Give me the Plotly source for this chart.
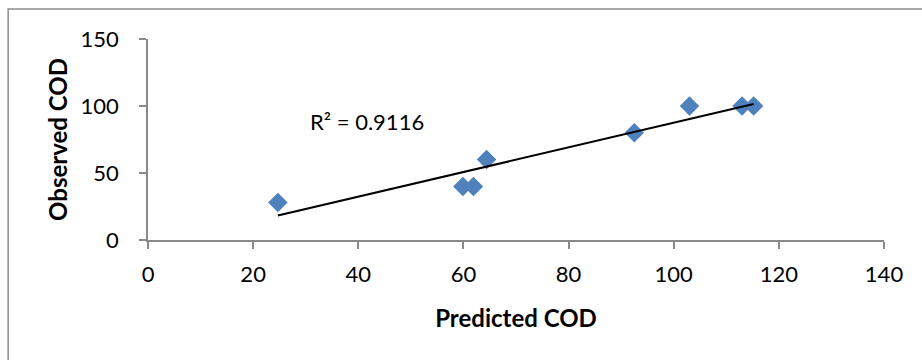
import numpy as np
import plotly.graph_objects as go

predicted_cod = [24.7, 59.9, 61.9, 64.4, 92.5, 103.0, 113.0, 115.2]
observed_cod = [28, 40, 40, 60, 80, 100, 100, 100]
r2_label = "R² = 0.9116"
x_ticks = [0, 20, 40, 60, 80, 100, 120, 140]
y_ticks = [0, 50, 100, 150]

slope, intercept = np.polyfit(predicted_cod, observed_cod, 1)
x_fit = [min(predicted_cod), max(predicted_cod)]
y_fit = [slope * v + intercept for v in x_fit]

FONT = "Lato"
AXIS_COLOR = "#898989"

fig = go.Figure()
fig.add_trace(go.Scatter(
    x=predicted_cod, y=observed_cod, mode="markers",
    marker=dict(symbol="diamond", size=15, color="#4F81BD", line=dict(width=0)),
    showlegend=False, hoverinfo="skip"))
fig.add_trace(go.Scatter(
    x=x_fit, y=y_fit, mode="lines",
    line=dict(color="black", width=2),
    showlegend=False, hoverinfo="skip"))

fig.add_annotation(x=41.75, y=88.8, xref="x", yref="y", text=r2_label,
                   showarrow=False, font=dict(family=FONT, size=22, color="black"))

fig.add_shape(type="rect", xref="paper", yref="paper",
              x0=-0.19, x1=1.07, y0=-0.7, y1=1.149,
              line=dict(color="#8c8c8c", width=1.5), fillcolor="rgba(0,0,0,0)", layer="below")

fig.update_xaxes(
    range=[0, 140], tickvals=x_ticks, showgrid=False, zeroline=False,
    showline=True, linecolor=AXIS_COLOR, linewidth=1.5,
    ticks="outside", ticklen=7, tickcolor=AXIS_COLOR, tickwidth=1.5,
    tickfont=dict(family=FONT, size=22, color="black"), ticklabelstandoff=7,
    title=dict(text="<b>Predicted COD</b>", font=dict(family=FONT, size=24, color="black"), standoff=24),
    automargin=False)
fig.update_yaxes(
    range=[0, 150], tickvals=y_ticks, showgrid=False, zeroline=False,
    showline=True, linecolor=AXIS_COLOR, linewidth=1.5,
    ticks="outside", ticklen=7, tickcolor=AXIS_COLOR, tickwidth=1.5,
    tickfont=dict(family=FONT, size=22, color="black"), ticklabelstandoff=16,
    title=dict(text="<b>Observed COD</b>", font=dict(family=FONT, size=24, color="black"), standoff=6),
    automargin=False)

fig.update_layout(
    width=922, height=360,
    margin=dict(l=148, r=38, t=39, b=120),
    paper_bgcolor="white", plot_bgcolor="white",
    font=dict(family=FONT))

fig.write_html("out.html")
